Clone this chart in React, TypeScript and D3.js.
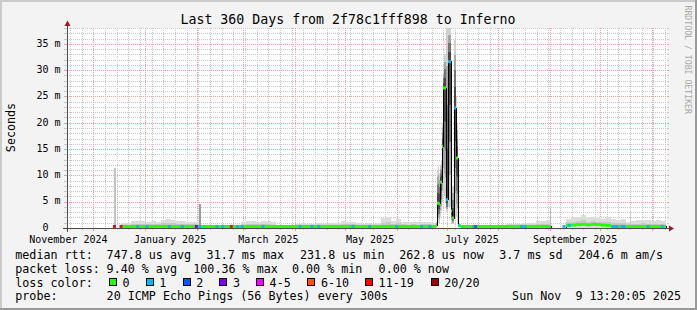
import React from "react";
import * as d3 from "d3";

const WIDTH = 697;
const HEIGHT = 310;
const FONT = "'DejaVu Sans Mono', monospace";
const DAY_MS = 86400000;

// ---- time / value domains ----
const endTime = new Date(2025, 10, 9, 13, 20, 5);
const spanDays = 360;
const yMaxMs = 38;

// ---- axis labels ----
const yTickValues = [0, 5, 10, 15, 20, 25, 30, 35];
const yTickLabels = ["0", "5 m", "10 m", "15 m", "20 m", "25 m", "30 m", "35 m"];
const monthLabelMonths: [number, number][] = [[2024, 10], [2025, 0], [2025, 2], [2025, 4], [2025, 6], [2025, 8]];
const monthLabels = ["November 2024", "January 2025", "March 2025", "May 2025", "July 2025", "September 2025"];

// ---- loss categories ----
const lossLabels = ["0", "1", "2", "3", "4-5", "6-10", "11-19", "20/20"];
const lossColors = ["#26ff00", "#00b8ff", "#0059ff", "#7e00ff", "#ff00ff", "#ff5500", "#ff0000", "#a10000"];

// ---- main series: one sample every 3 days from the start (ms, null = no data) ----
const mainStepDays = 3;
const mainSmokeMax: (number | null)[] = [
  null, null, null, null, null, null, null, null, null, null,
  null, 0.9, 1.0, 1.3, 1.3, 1.3, 1.2, 1.3, 1.2, 1.6,
  1.8, 1.6, 1.4, 1.3, 1.2, 1.2, 1.1, 0.5, 0.4, 0.5,
  0.4, 0.5, 0.6, 0.4, 0.6, 1.1, 1.3, 1.4, 1.2, 1.4,
  1.3, 1.1, 0.6, 0.5, 0.4, 0.6, 0.8, 0.9, 0.7, 0.8,
  0.9, 0.7, 0.9, 1.0, 0.9, 1.3, 1.2, 1.2, 0.9, 0.8,
  0.9, 0.8, 0.9, 1.9, 2.1, 1.4, 1.7, 1.2, 1.1, 1.2,
  1.1, 1.2, 1.2, 1.0, null, null, null, null, null, 0.5,
  0.5, 0.6, 0.5, 0.5, 0.5, 0.6, 0.5, 0.6, 0.7, 0.8,
  0.7, 0.9, 0.9, 1.0, 1.4, 1.3, 1.5, null, null, null,
  1.8, 2.0, 2.1, 2.4, 2.0, 2.1, 1.9, 1.8, 2.0, 1.7,
  1.6, 1.7, 1.2, 1.4, 1.5, 1.6, 1.5, 1.4, 1.5, 1.3,
];
const mainMedian: (number | null)[] = [
  null, null, null, null, null, null, null, null, null, null,
  null, 0.3, 0.3, 0.3, 0.3, 0.3, 0.3, 0.3, 0.3, 0.3,
  0.3, 0.3, 0.3, 0.3, 0.3, 0.3, 0.3, 0.3, 0.3, 0.3,
  0.3, 0.3, 0.3, 0.3, 0.3, 0.3, 0.3, 0.3, 0.3, 0.3,
  0.3, 0.3, 0.3, 0.3, 0.3, 0.3, 0.3, 0.3, 0.3, 0.3,
  0.3, 0.3, 0.3, 0.3, 0.3, 0.3, 0.3, 0.3, 0.3, 0.3,
  0.3, 0.3, 0.3, 0.3, 0.3, 0.3, 0.3, 0.3, 0.3, 0.3,
  0.3, 0.3, 0.3, 0.3, null, null, null, null, null, 0.3,
  0.3, 0.3, 0.3, 0.3, 0.3, 0.3, 0.3, 0.3, 0.3, 0.3,
  0.3, 0.3, 0.3, 0.3, 0.3, 0.3, 0.3, null, null, null,
  0.5, 0.55, 0.65, 0.7, 0.6, 0.7, 0.65, 0.55, 0.5, 0.3,
  0.3, 0.3, 0.3, 0.3, 0.3, 0.3, 0.3, 0.3, 0.3, 0.3,
];

// ---- June 2025 event: one sample per 0.6 day ----
const eventStartDay = 222;
const eventStepDays = 0.6;
const eventMedian = [0.4, 4.7, 4.7, 4.6, 8.7, 8.7, 15.5, 26.6, 26.6, 26.6, 5.4, 5.4, 31.6, 31.6, 31.6, 3.2, 1.9, 1.9, 22.8, 22.8, 13.3, 13.3, 0.5, 0.4, 0.4];
const eventMin = [0.1, 0.5, 1.0, 1.0, 2.0, 3.0, 5.0, 7.0, 6.0, 5.0, 3.0, 3.0, 4.0, 4.0, 4.0, 1.0, 0.8, 0.8, 2.0, 2.0, 2.0, 1.0, 0.2, 0.1, 0.1];
const eventMax = [1.2, 11.0, 11.5, 10.5, 12.0, 13.0, 20.0, 30.0, 33.0, 33.0, 38.0, 38.0, 38.0, 38.0, 38.0, 12.0, 8.0, 8.0, 35.8, 35.8, 25.0, 20.0, 1.5, 0.8, 0.7];
const eventLoss = [0, 0, 0, 0, 0, 0, 0, 0, 0, 0, 1, 1, 1, 1, 1, 0, 0, 0, 1, 1, 0, 0, 1, 0, 0];

// ---- isolated smoke spikes ----
const spikeDays = [29.1, 47.4, 80.4, 290.4, 338.4];
const spikeMax = [11.4, 2.2, 4.5, 3.8, 3.5];

// ---- loss events on the median line ----
const lossEventDays = [29.1, 33.0, 43.0, 48.6, 62.0, 69.8, 78.2, 80.4, 90.6, 94.0, 99.2, 103.0, 105.8, 118.2, 140.4, 147.6, 151.6, 172.2, 182.2, 198.4, 213.4, 218.4, 244.6, 245.8, 273.4, 275.4, 298.8, 302.0, 328.2, 329.4, 330.6, 333.6, 334.8, 349.2, 357.8];
const lossEventCats = [6, 6, 1, 1, 1, 1, 3, 1, 1, 1, 6, 1, 1, 1, 1, 1, 1, 1, 1, 1, 1, 1, 1, 2, 1, 1, 1, 1, 1, 1, 1, 1, 1, 1, 1];

// ---- legend texts ----
const legendRow1 = ["median rtt:", "747.8 us avg", "31.7 ms max", "231.8 us min", "262.8 us now", "3.7 ms sd", "204.6 m am/s"];
const legendRow2 = ["packet loss:", "9.40 % avg", "100.36 % max", "0.00 % min", "0.00 % now"];
const probeTexts = ["probe:", "20 ICMP Echo Pings (56 Bytes) every 300s"];
const dateText = "Sun Nov  9 13:20:05 2025";
const titleText = "Last 360 Days from 2f78c1fff898 to Inferno";

// ---- layout (styles / positions) ----
const PLOT_LEFT = 66;
const PLOT_RIGHT = 666;
const PLOT_TOP = 28;
const PLOT_BOTTOM = 228;
const AXIS_X = 67.5;
const AXIS_Y = 228.5;
const row1X = [15.3, 106.6, 206.6, 300, 399.3, 499.3, 578.6];
const row2X = [15.3, 106.6, 193.3, 292, 378.6];
const lossBoxX = [109, 145.7, 182.7, 219.3, 256, 307.3, 365, 430.7];
const rowY = [258.7, 272.6, 286.5, 300.3];
const spikeWidths = [2, 1, 2, 1, 1];
const spikeShades = ["#c4c4c4", "#d2d2d2", "#9c9c9c", "#b8b8b8", "#cdcdcd"];
const lightLayers = [{ f: 1, c: "#dcdcdc" }, { f: 0.45, c: "#c9c9c9" }];
const darkLayers = [{ f: 1, c: "#d0d0d0" }, { f: 0.78, c: "#a6a6a6" }, { f: 0.55, c: "#757575" }, { f: 0.3, c: "#474747" }];

type Col = { x0: number; x1: number; med: number; lo: number; hi: number; loss: number; dark: boolean };

const preStyle: React.CSSProperties = { whiteSpace: "pre" };

export default function App() {
  const start = new Date(endTime.getTime() - spanDays * DAY_MS);
  const xT = d3.scaleTime().domain([start, endTime]).range([PLOT_LEFT, PLOT_RIGHT]);
  const xD = d3.scaleLinear().domain([0, spanDays]).range([PLOT_LEFT, PLOT_RIGHT]);
  const y = d3.scaleLinear().domain([0, yMaxMs]).range([PLOT_BOTTOM, PLOT_TOP]);

  const cols: Col[] = [];
  mainSmokeMax.forEach((hi, i) => {
    const med = mainMedian[i];
    if (hi == null || med == null) return;
    cols.push({ x0: xD(i * mainStepDays), x1: xD((i + 1) * mainStepDays), med, lo: 0, hi, loss: 0, dark: false });
  });
  eventMedian.forEach((med, j) => {
    cols.push({
      x0: xD(eventStartDay + j * eventStepDays),
      x1: xD(eventStartDay + (j + 1) * eventStepDays),
      med, lo: eventMin[j], hi: eventMax[j], loss: eventLoss[j], dark: true,
    });
  });
  cols.sort((a, b) => a.x0 - b.x0);

  const runs: Col[][] = [];
  cols.forEach((c) => {
    const last = runs[runs.length - 1];
    if (last && Math.abs(last[last.length - 1].x1 - c.x0) < 0.01) last.push(c);
    else runs.push([c]);
  });
  const medianPath = runs
    .map((run) => {
      let p = `M${run[0].x0},${y(0)}`;
      run.forEach((c) => {
        p += `V${y(c.med)}H${c.x1}`;
      });
      return p + `V${y(0)}`;
    })
    .join("");

  // grid
  const minorH: number[] = [];
  for (let v = 1; v <= yMaxMs; v++) if (v % 5 !== 0) minorH.push(v);
  const majorH = yTickValues.filter((v) => v > 0);
  const monthTicks = d3.timeMonth.range(start, endTime).map((d) => xT(d));
  const weekTicks = d3.timeSunday
    .range(start, endTime)
    .map((d) => xT(d))
    .filter((x) => monthTicks.every((m) => Math.abs(m - x) > 1));

  const snap = (v: number) => Math.round(v) + 0.5;

  return (
    <svg width={WIDTH} height={HEIGHT} style={{ display: "block", position: "absolute", left: 0, top: 0 }} fontFamily={FONT}>
      {/* background & frame */}
      <rect x={0} y={0} width={WIDTH} height={HEIGHT} fill="#f3f3f3" />
      <rect x={0} y={0} width={WIDTH} height={2} fill="#cbcbcb" />
      <rect x={0} y={0} width={2} height={HEIGHT} fill="#cbcbcb" />
      <rect x={0} y={HEIGHT - 2} width={WIDTH} height={2} fill="#999999" />
      <rect x={WIDTH - 2} y={0} width={2} height={HEIGHT} fill="#999999" />

      {/* canvas */}
      <rect x={67} y={PLOT_TOP} width={600} height={PLOT_BOTTOM - PLOT_TOP} fill="#ffffff" />

      {/* grid */}
      <g shapeRendering="crispEdges" strokeWidth={1}>
        {minorH.map((v) => (
          <g key={"mh" + v} stroke="#c8c8c8">
            <line x1={64} x2={67} y1={snap(y(v))} y2={snap(y(v))} />
            <line x1={67} x2={667} y1={snap(y(v))} y2={snap(y(v))} strokeDasharray="1,1" />
            <line x1={667} x2={669} y1={snap(y(v))} y2={snap(y(v))} />
          </g>
        ))}
        {weekTicks.map((x, i) => (
          <g key={"wv" + i} stroke="#c8c8c8">
            <line x1={snap(x)} x2={snap(x)} y1={PLOT_TOP} y2={PLOT_BOTTOM} strokeDasharray="1,1" />
            <line x1={snap(x)} x2={snap(x)} y1={PLOT_BOTTOM} y2={PLOT_BOTTOM + 2} />
          </g>
        ))}
        {majorH.map((v) => (
          <g key={"Mh" + v} stroke="#e8a0a0">
            <line x1={64} x2={67} y1={snap(y(v))} y2={snap(y(v))} />
            <line x1={67} x2={667} y1={snap(y(v))} y2={snap(y(v))} strokeDasharray="1,1" />
            <line x1={667} x2={669} y1={snap(y(v))} y2={snap(y(v))} />
          </g>
        ))}
        {monthTicks.map((x, i) => (
          <g key={"Mv" + i} stroke="#e8a0a0">
            <line x1={snap(x)} x2={snap(x)} y1={PLOT_TOP} y2={PLOT_BOTTOM} strokeDasharray="1,1" />
            <line x1={snap(x)} x2={snap(x)} y1={PLOT_BOTTOM} y2={PLOT_BOTTOM + 3} />
          </g>
        ))}
      </g>

      {/* smoke */}
      <g shapeRendering="crispEdges">
        {cols.map((c, i) =>
          (c.dark ? darkLayers : lightLayers).map((L, k) => {
            const top = c.med + L.f * (c.hi - c.med);
            const bot = c.med - L.f * (c.med - c.lo);
            return (
              <rect key={`s${i}-${k}`} x={c.x0} width={c.x1 - c.x0} y={y(top)} height={Math.max(0, y(bot) - y(top))} fill={L.c} />
            );
          })
        )}
        {spikeDays.map((d, i) => (
          <rect key={"sp" + i} x={xD(d) - spikeWidths[i] / 2} width={spikeWidths[i]} y={y(spikeMax[i])} height={y(0) - y(spikeMax[i])} fill={spikeShades[i]} />
        ))}
      </g>

      {/* median */}
      <path d={medianPath} fill="none" stroke="#000000" strokeWidth={1} shapeRendering="crispEdges" />
      <g>
        {cols.map((c, i) => (
          <rect key={"m" + i} x={c.x0} width={c.x1 - c.x0} y={y(c.med) - 1.5} height={3} fill={lossColors[c.loss]} />
        ))}
        {lossEventDays.map((d, i) => {
          const x = xD(d);
          const col = cols.find((c) => x >= c.x0 && x < c.x1);
          const med = col ? col.med : 0.3;
          return <rect key={"le" + i} x={x - 1.5} width={3} y={y(med) - 1.5} height={3} fill={lossColors[lossEventCats[i]]} />;
        })}
      </g>

      {/* axes */}
      <g shapeRendering="crispEdges" stroke="#4a4a4a" strokeWidth={1}>
        <line x1={63} x2={671} y1={AXIS_Y} y2={AXIS_Y} />
        <line x1={AXIS_X} x2={AXIS_X} y1={232} y2={24} />
      </g>
      <polygon points={`669,${AXIS_Y - 3} 669,${AXIS_Y + 3} 674,${AXIS_Y}`} fill="#9e1b1b" />
      <polygon points={`${AXIS_X - 3},26 ${AXIS_X + 3},26 ${AXIS_X},20.5`} fill="#9e1b1b" />

      {/* y labels */}
      <g fontSize={10} fill="#000">
        {yTickValues.map((v, i) => {
          const [num, unit] = yTickLabels[i].split(" ");
          return (
            <g key={"yl" + v}>
              <text x={48.5} y={y(v) + 2.8} textAnchor="end">{num}</text>
              {unit ? <text x={54.5} y={y(v) + 2.8}>{unit}</text> : null}
            </g>
          );
        })}
      </g>

      {/* month labels */}
      <g fontSize={10} fill="#000" textAnchor="middle">
        {monthLabelMonths.map(([yy, mm], i) => (
          <text key={"ml" + i} x={xT(new Date(yy, mm, 16))} y={242.5}>{monthLabels[i]}</text>
        ))}
      </g>

      {/* title */}
      <text x={348} y={24} fontSize={13.25} textAnchor="middle" fill="#000">{titleText}</text>

      {/* vertical labels */}
      <text transform="translate(15,127.5) rotate(-90)" fontSize={11.7} textAnchor="middle" fill="#000">Seconds</text>
      <text transform="translate(685,5.5) rotate(90)" fontSize={8.2} fill="#a8a8a8">RRDTOOL / TOBI OETIKER</text>

      {/* legend */}
      <g fontSize={11.7} fill="#000">
        {legendRow1.map((t, i) => (
          <text key={"r1" + i} x={row1X[i]} y={rowY[0]} xmlSpace="preserve" style={preStyle}>{t}</text>
        ))}
        {legendRow2.map((t, i) => (
          <text key={"r2" + i} x={row2X[i]} y={rowY[1]} xmlSpace="preserve" style={preStyle}>{t}</text>
        ))}
        <text x={15.3} y={rowY[2]}>loss color:</text>
        {lossLabels.map((t, i) => (
          <g key={"lb" + i}>
            <rect x={lossBoxX[i] + 0.5} y={278.5} width={7} height={7} fill={lossColors[i]} stroke="#000" strokeWidth={1} shapeRendering="crispEdges" />
            <text x={lossBoxX[i] + 13.6} y={rowY[2]}>{t}</text>
          </g>
        ))}
        <text x={15.3} y={rowY[3]}>{probeTexts[0]}</text>
        <text x={106.6} y={rowY[3]}>{probeTexts[1]}</text>
        <text x={681} y={rowY[3]} textAnchor="end" xmlSpace="preserve" style={preStyle}>{dateText}</text>
      </g>
    </svg>
  );
}
